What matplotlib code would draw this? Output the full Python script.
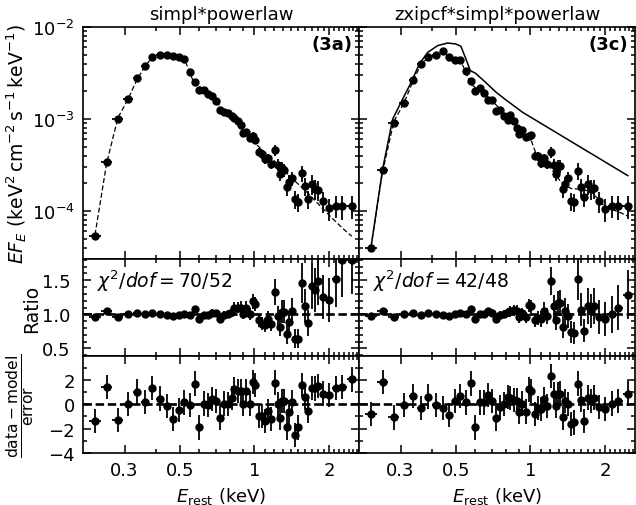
import numpy as np
import matplotlib
matplotlib.use("Agg")
import matplotlib.pyplot as plt
from matplotlib.ticker import FixedLocator, NullFormatter, FixedFormatter, MultipleLocator, LogLocator

# rest-frame energy of each bin (keV), same binning in both fits
energy = [0.228, 0.254, 0.282, 0.310, 0.337, 0.364, 0.388, 0.418, 0.444, 0.470,
          0.497, 0.523, 0.548, 0.574, 0.601, 0.624, 0.649, 0.676, 0.702, 0.728,
          0.758, 0.786, 0.811, 0.831, 0.857, 0.884, 0.903, 0.926, 0.961, 0.984,
          1.009, 1.047, 1.074, 1.104, 1.138, 1.167, 1.211, 1.248, 1.268, 1.292,
          1.320, 1.353, 1.382, 1.420, 1.461, 1.506, 1.554, 1.598, 1.648, 1.705,
          1.758, 1.812, 1.893, 2.000, 2.129, 2.263, 2.469]

# unfolded spectra EF_E
flux_a = [5.4e-5, 3.44e-4, 1.0e-3, 1.65e-3, 2.77e-3, 3.8e-3, 4.76e-3, 5.0e-3, 5.0e-3, 4.84e-3,
          4.72e-3, 4.46e-3, 3.25e-3, 2.52e-3, 2.09e-3, 2.09e-3, 1.88e-3, 1.76e-3, 1.57e-3, 1.25e-3,
          1.2e-3, 1.16e-3, 1.07e-3, 1.03e-3, 9.6e-4, 8.6e-4, 7.05e-4, 7.2e-4, 6.26e-4, 6.6e-4,
          5.96e-4, 4.41e-4, 4.17e-4, 3.67e-4, 3.74e-4, 3.21e-4, 4.56e-4, 3.16e-4, 2.52e-4, 2.91e-4,
          2.8e-4, 1.81e-4, 2.08e-4, 2.27e-4, 1.35e-4, 1.26e-4, 2.59e-4, 1.88e-4, 1.35e-4, 1.96e-4,
          1.73e-4, 1.70e-4, 1.29e-4, 1.07e-4, 1.14e-4, 1.13e-4, 1.13e-4]
flux_c = [4.0e-5, 2.81e-4, 9.06e-4, 1.49e-3, 2.65e-3, 3.96e-3, 4.67e-3, 4.97e-3, 5.53e-3, 4.67e-3,
          4.37e-3, 4.4e-3, 3.3e-3, 2.59e-3, 2.03e-3, 2.17e-3, 1.92e-3, 1.61e-3, 1.61e-3, 1.23e-3,
          1.26e-3, 1.07e-3, 9.8e-4, 1.10e-3, 9.6e-4, 7.9e-4, 6.87e-4, 7.65e-4, 6.32e-4, 6.48e-4,
          6.7e-4, 3.99e-4, 3.93e-4, 3.32e-4, 3.74e-4, 3.24e-4, 4.35e-4, 3.16e-4, 2.52e-4, 3.11e-4,
          3.11e-4, 1.73e-4, 1.96e-4, 2.26e-4, 1.29e-4, 1.26e-4, 2.74e-4, 1.81e-4, 1.41e-4, 1.96e-4,
          1.73e-4, 1.77e-4, 1.29e-4, 1.05e-4, 1.14e-4, 1.13e-4, 1.13e-4]

# fractional error of each bin
frac_err = [0.026, 0.03, 0.027, 0.02, 0.024, 0.018, 0.015, 0.015, 0.016, 0.018,
            0.02, 0.022, 0.025, 0.04, 0.042, 0.045, 0.045, 0.05, 0.05, 0.06,
            0.06, 0.06, 0.065, 0.075, 0.075, 0.08, 0.08, 0.08, 0.085, 0.088,
            0.09, 0.10, 0.11, 0.12, 0.12, 0.12, 0.14, 0.15, 0.16, 0.16,
            0.16, 0.20, 0.19, 0.18, 0.22, 0.22, 0.20, 0.22, 0.22, 0.24,
            0.24, 0.24, 0.26, 0.27, 0.27, 0.30, 0.28]

# data/model ratios
ratio_a = [0.965, 1.044, 0.965, 1.0, 1.025, 1.0, 1.02, 1.006, 0.995, 0.975,
           0.99, 1.006, 0.99, 1.074, 0.926, 0.995, 0.995, 1.025, 1.015, 0.93,
           0.995, 1.006, 1.03, 1.10, 1.10, 1.10, 1.006, 1.10, 1.006, 1.19,
           1.15, 0.91, 0.86, 0.85, 0.93, 0.86, 1.33, 0.98, 0.81, 1.04,
           1.04, 0.71, 0.885, 1.05, 0.645, 0.645, 1.455, 1.12, 0.87, 1.41,
           1.355, 1.49, 1.25, 1.21, 1.51, 1.79, 1.80]
ratio_c = [0.975, 1.044, 0.965, 1.0, 1.02, 0.99, 1.015, 1.0, 0.99, 0.975,
           1.0, 1.025, 1.0, 1.074, 0.926, 1.0, 1.006, 1.044, 1.025, 0.93,
           0.99, 1.0, 1.03, 1.044, 1.06, 1.05, 0.955, 1.015, 0.955, 1.13,
           1.115, 0.91, 0.95, 0.93, 1.05, 0.98, 1.49, 1.115, 0.91, 1.16,
           1.17, 0.82, 1.044, 0.98, 0.74, 0.73, 1.51, 1.07, 0.76, 1.12,
           1.05, 1.12, 0.96, 0.93, 1.0, 1.10, 1.29]

# (data - model) / error
resid_a = [-1.36, 1.41, -1.31, 0.0, 1.03, 0.19, 1.35, 0.46, -0.14, -1.22,
           -0.46, 0.14, -0.05, 1.69, -1.90, 0.05, -0.05, 0.41, 0.27, -1.14,
           0.05, 0.0, 0.49, 1.22, 1.08, 1.08, 0.05, 1.08, 0.05, 1.82,
           1.55, -0.95, -0.95, -1.36, -0.54, -1.22, 1.77, 0.0, -1.14, 0.27,
           0.27, -1.90, -0.68, 0.2, -2.53, -1.90, 1.58, 0.55, -0.54, 1.35,
           1.3, 1.5, 0.87, 0.73, 1.35, 1.41, 2.04]
resid_c = [-0.82, 1.82, -1.09, -0.08, 0.68, -0.33, 0.63, -0.05, -0.33, -0.87,
           0.27, 0.68, 0.14, 1.71, -1.90, 0.14, 0.14, 0.73, 0.27, -1.17,
           -0.27, 0.0, 0.60, 0.49, 0.35, 0.3, -0.6, 0.05, -0.6, 1.22,
           1.09, -0.82, -0.33, -0.41, 0.41, -0.14, 2.31, 0.82, -0.14, 0.82,
           0.87, -1.09, 0.27, 0.0, -1.63, -1.50, 1.69, 0.33, -1.36, 0.54,
           0.27, 0.54, -0.22, -0.41, 0.05, 0.27, 0.87]

# folded models (dashed)
model_a_e = [0.228, 0.254, 0.282, 0.310, 0.337, 0.364, 0.388, 0.418, 0.444, 0.470,
             0.497, 0.523, 0.548, 0.574, 0.601, 0.649, 0.702, 0.758, 0.811, 0.857,
             0.903, 0.961, 1.009, 1.211, 1.461, 1.648, 2.0, 2.263, 2.469]
model_a_f = [5.5e-5, 3.3e-4, 1.03e-3, 1.65e-3, 2.7e-3, 3.8e-3, 4.67e-3, 4.97e-3, 5.0e-3, 4.96e-3,
             4.77e-3, 4.43e-3, 3.28e-3, 2.35e-3, 2.25e-3, 1.89e-3, 1.55e-3, 1.21e-3, 1.04e-3, 8.7e-4,
             7.3e-4, 6.3e-4, 5.4e-4, 3.45e-4, 2.1e-4, 1.55e-4, 9.0e-5, 6.5e-5, 5.3e-5]
model_c_e = [0.228, 0.254, 0.282, 0.310, 0.337, 0.364, 0.388, 0.418, 0.444, 0.470,
             0.497, 0.523, 0.548, 0.574, 0.601, 0.649, 0.702, 0.758, 0.811, 0.857,
             0.903, 0.961, 1.009, 1.047, 1.104, 1.211, 1.33, 1.46, 1.60, 1.76,
             1.90, 2.0, 2.26, 2.47]
model_c_f = [4.1e-5, 2.7e-4, 9.4e-4, 1.5e-3, 2.6e-3, 4.0e-3, 4.6e-3, 4.97e-3, 5.3e-3, 4.8e-3,
             4.4e-3, 4.3e-3, 3.3e-3, 2.41e-3, 2.19e-3, 1.91e-3, 1.57e-3, 1.27e-3, 1.0e-3, 8.9e-4,
             7.2e-4, 6.6e-4, 5.8e-4, 4.4e-4, 3.6e-4, 2.9e-4, 2.05e-4, 1.75e-4, 1.72e-4, 1.62e-4,
             1.3e-4, 1.1e-4, 9.8e-5, 8.8e-5]
# model without the partial covering absorber (solid)
intr_e = [0.228, 0.254, 0.279, 0.306, 0.331, 0.357, 0.386, 0.423, 0.464, 0.501,
          0.525, 0.550, 0.573, 0.600, 0.650, 0.728, 0.800, 0.931, 2.47]
intr_f = [4.0e-5, 2.86e-4, 1.0e-3, 1.65e-3, 2.5e-3, 3.96e-3, 5.3e-3, 6.27e-3, 6.7e-3, 6.53e-3,
          6.17e-3, 4.49e-3, 3.35e-3, 3.15e-3, 2.6e-3, 1.95e-3, 1.6e-3, 1.18e-3, 2.42e-4]

titles = ["simpl*powerlaw", "zxipcf*simpl*powerlaw"]
tags = ["(3a)", "(3c)"]
chi2 = [r"$\chi^2/dof = 70/52$", r"$\chi^2/dof = 42/48$"]

plt.rcParams['font.size'] = 12
plt.rcParams['mathtext.fontset'] = 'dejavusans'

e = np.array(energy)
mid = np.sqrt(e[1:] * e[:-1])
lo = np.r_[e[0] ** 2 / mid[0], mid]
hi = np.r_[mid, e[-1] ** 2 / mid[-1]]
xerr = [e - lo, hi - e]
frac = np.array(frac_err)

fig = plt.figure(figsize=(6.36, 5.06), dpi=100)

W = 276 / 636
lefts = [83 / 636, 359 / 636]
rows = [(246 / 506, 232 / 506), (149 / 506, 97 / 506), (52 / 506, 97 / 506)]

major_x = [0.3, 0.5, 1, 2]
minor_x = np.arange(0.2, 2.65, 0.1)


def style(ax):
    ax.set_xscale('log')
    ax.set_xlim(0.204, 2.64)
    ax.xaxis.set_major_locator(FixedLocator(major_x))
    ax.xaxis.set_minor_locator(FixedLocator(minor_x))
    ax.xaxis.set_minor_formatter(NullFormatter())
    ax.tick_params(which='both', direction='in', top=True, right=True, width=1.1)
    ax.tick_params(which='major', length=5.5, labelsize=13, pad=6)
    ax.tick_params(which='minor', length=2.8)
    for s in ax.spines.values():
        s.set_linewidth(1.2)


ebkw = dict(fmt='o', color='k', ms=5, elinewidth=1.3, capsize=0)

for col in range(2):
    flux = np.array([flux_a, flux_c][col])
    ratio = np.array([ratio_a, ratio_c][col])
    resid = np.array([resid_a, resid_c][col])

    ax1 = fig.add_axes([lefts[col], rows[0][0], W, rows[0][1]])
    ax2 = fig.add_axes([lefts[col], rows[1][0], W, rows[1][1]])
    ax3 = fig.add_axes([lefts[col], rows[2][0], W, rows[2][1]])
    for ax in (ax1, ax2, ax3):
        style(ax)

    # spectrum
    ax1.errorbar(e, flux, xerr=xerr, yerr=flux * frac, **ebkw)
    if col == 0:
        ax1.plot(model_a_e, model_a_f, color='k', lw=0.9, ls=(0, (4, 2)))
    else:
        ax1.plot(model_c_e, model_c_f, color='k', lw=0.9, ls=(0, (4, 2)))
        ax1.plot(intr_e, intr_f, color='k', lw=1.1)
    ax1.set_yscale('log')
    ax1.set_ylim(3.0e-5, 1e-2)
    ax1.yaxis.set_minor_locator(LogLocator(base=10, subs=np.arange(2, 10)))
    ax1.yaxis.set_minor_formatter(NullFormatter())
    ax1.set_title(titles[col], fontsize=13, pad=6)
    ax1.text(0.975, 0.925, tags[col], transform=ax1.transAxes, ha='right', va='center',
             fontsize=13, fontweight='bold')
    ax1.tick_params(labelbottom=False)

    # ratio
    ax2.errorbar(e, ratio, xerr=xerr, yerr=ratio * frac, **ebkw)
    ax2.axhline(1.0, color='k', lw=1.9, ls=(0, (3.2, 1.4)))
    ax2.set_ylim(0.39, 1.81)
    ax2.yaxis.set_major_locator(FixedLocator([0.5, 1.0, 1.5]))
    ax2.yaxis.set_minor_locator(MultipleLocator(0.1))
    ax2.tick_params(axis='y', which='major', pad=9)
    ax2.text(0.05, 0.78, chi2[col], transform=ax2.transAxes, ha='left', va='center', fontsize=13.5)
    ax2.tick_params(labelbottom=False)

    # residuals
    ax3.errorbar(e, resid, xerr=xerr, yerr=np.ones_like(resid), **ebkw)
    ax3.axhline(0.0, color='k', lw=1.9, ls=(0, (3.2, 1.4)))
    ax3.set_ylim(-4, 3.95)
    ax3.yaxis.set_major_locator(FixedLocator([-4, -2, 0, 2]))
    ax3.yaxis.set_minor_locator(MultipleLocator(1))
    ax3.xaxis.set_major_formatter(FixedFormatter(['0.3', '0.5', '1', '2']))
    ax3.set_xlabel(r'$E_{\rm rest}$ (keV)', fontsize=13)

    if col == 0:
        ax1.set_ylabel(r'$EF_E$ (keV$^2\,$cm$^{-2}\,$s$^{-1}\,$keV$^{-1}$)', fontsize=13.5)
        ax1.yaxis.set_label_coords(-0.195, 0.5)
        ax2.set_ylabel('Ratio', fontsize=13.5)
        ax2.yaxis.set_label_coords(-0.15, 0.5)
        ax3.set_ylabel(r'$\frac{\rm data-model}{\rm error}$', fontsize=16)
        ax3.yaxis.set_label_coords(-0.165, 0.5)
    else:
        for ax in (ax1, ax2, ax3):
            ax.tick_params(labelleft=False)

fig.savefig('out.png', dpi=100)
